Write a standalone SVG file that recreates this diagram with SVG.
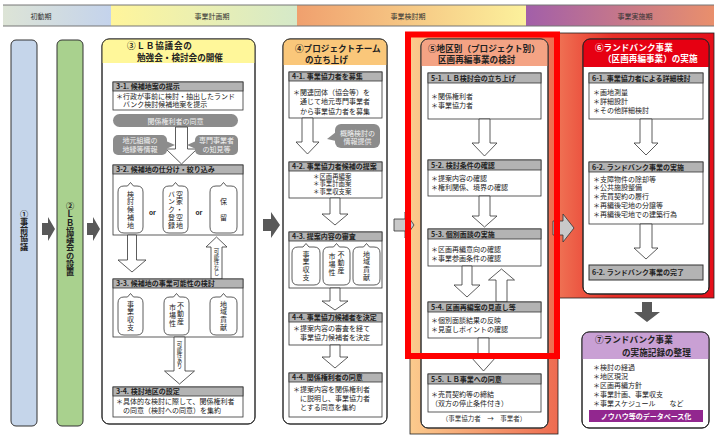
<svg xmlns="http://www.w3.org/2000/svg" width="717" height="436" viewBox="0 0 717 436" font-family="'Noto Sans CJK JP','Noto Sans',sans-serif">
<defs>
<linearGradient id="g1" x1="0" x2="1"><stop offset="0" stop-color="#dde4d6"/><stop offset="1" stop-color="#c4d3ec"/></linearGradient>
<linearGradient id="g2" x1="0" x2="1"><stop offset="0" stop-color="#fff59b"/><stop offset="1" stop-color="#d5e9c9"/></linearGradient>
<linearGradient id="g3" x1="0" x2="1"><stop offset="0" stop-color="#f0a06e"/><stop offset="1" stop-color="#fcf19c"/></linearGradient>
<linearGradient id="g4" x1="0" x2="1"><stop offset="0" stop-color="#a25fa9"/><stop offset="1" stop-color="#e98f6c"/></linearGradient>
<linearGradient id="gp5" x1="0" x2="1"><stop offset="0" stop-color="#fbcb8d"/><stop offset="1" stop-color="#ee6b50"/></linearGradient>
<linearGradient id="gp6" x1="0" x2="1"><stop offset="0" stop-color="#ef7254"/><stop offset="0.35" stop-color="#e83028"/><stop offset="1" stop-color="#e50f1a"/></linearGradient>
<style>
.box{fill:#fff;stroke:#333;stroke-width:1}
.sh{fill:#b3b3b3;stroke:#333;stroke-width:0.8}
.sb{fill:#fff;stroke:#333;stroke-width:0.8}
.ha{fill:#fff;stroke:#333;stroke-width:0.8}
.bub{fill:#fff;stroke:#333;stroke-width:0.8}
.gb{fill:#8c8c8c}
.da{fill:#595959}
.la{fill:#c9c9c9;stroke:#333;stroke-width:0.8}
.ph{font-size:7px;fill:#333;text-anchor:middle}
.ti{font-size:8.6px;font-weight:bold;fill:#222}
.tw{font-size:8.6px;font-weight:bold;fill:#fff}
.hd{font-size:7px;font-weight:bold;fill:#222}
.bt{font-size:7px;fill:#222}
.bs{font-size:6.4px;fill:#222}
.gt{font-size:7px;fill:#f2f2f2;text-anchor:middle}
.v{writing-mode:vertical-rl;text-anchor:middle}
.vb{font-size:7px;fill:#222;letter-spacing:0.8px}
.al{font-size:5.5px;fill:#222}
.or{font-size:6.5px;font-weight:bold;fill:#222;text-anchor:middle}
</style>
</defs>

<g id="phase-header">
<rect x="3" y="5" width="108" height="21" fill="url(#g1)"/>
<rect x="111" y="5" width="186" height="21" fill="url(#g2)"/>
<rect x="297" y="5" width="229" height="21" fill="url(#g3)"/>
<rect x="526" y="5" width="188" height="21" fill="url(#g4)"/>
<line x1="3" y1="5" x2="714" y2="5" stroke="#777" stroke-width="1"/>
<line x1="3" y1="26" x2="714" y2="26" stroke="#777" stroke-width="1"/>
<text class="ph" x="41" y="18.5">初動期</text>
<text class="ph" x="212" y="18.5">事業計画期</text>
<text class="ph" x="408" y="18.5">事業検討期</text>
<text class="ph" x="635" y="18.5">事業実施期</text>
</g>

<g id="panel5">
<rect x="410" y="33" width="148" height="401" fill="url(#gp5)" stroke="#222" stroke-width="0.8"/>
</g>
<g id="panel6">
<rect x="558" y="33" width="156" height="265" fill="url(#gp6)" stroke="#222" stroke-width="0.8"/>
</g>

<g id="connectors">
<path class="da" d="M42,223 H48 V217 L55,229 L48,241 V235 H42 Z"/>
<path class="da" d="M87,223 H93 V217 L100,229 L93,241 V235 H87 Z"/>
<path class="da" d="M263,219 H271 V212 L280,225 L271,238 V231 H263 Z"/>
<path class="la" d="M394,219 H405 V212 L414,225 L405,238 V231 H394 Z"/>
<path class="la" d="M553,221 H563 V214 L574,228 L563,242 V235 H553 Z"/>
<path class="da" d="M642,302 H652 V312 H660 L647,322 L634,312 H642 Z"/>
</g>

<g id="n1">
<rect x="11" y="40" width="26" height="386" rx="5" fill="#c5d5ea" stroke="#333" stroke-width="1"/>
<text class="v" x="24" y="230" font-size="8.2" font-weight="bold" fill="#222">①事前協議</text>
</g>
<g id="n2">
<rect x="57" y="40" width="26" height="386" rx="5" fill="#a9d18e" stroke="#333" stroke-width="1"/>
<text class="v" x="70" y="239" font-size="8.2" font-weight="bold" fill="#222">②ＬＢ協議会の設置</text>
</g>

<g id="n3">
<rect class="box" x="102" y="39" width="153" height="385" rx="7"/>
<path d="M102,63 V46 Q102,39 109,39 H248 Q255,39 255,46 V63 Z" fill="#fff79a"/>
<rect x="102" y="39" width="153" height="385" rx="7" fill="none" stroke="#333" stroke-width="1"/>
<text class="ti" x="127" y="49" letter-spacing="0.8">③ＬＢ協議会の</text>
<text class="ti" x="137" y="60.5">勉強会・検討会の開催</text>
<g id="s3-1">
<rect class="sb" x="113" y="82" width="130" height="28"/>
<rect class="sh" x="113" y="82" width="130" height="9"/>
<text class="hd" x="116" y="89">3-1. 候補地案の提示</text>
<text class="bt" x="116" y="98.5">＊行政が事前に検討・抽出したランド</text>
<text class="bt" x="123" y="107.3">バンク検討候補地案を提示</text>
</g>
<rect class="gb" x="113" y="114" width="125" height="13" rx="6.5"/>
<text class="gt" x="175.5" y="123.5">関係権利者の同意</text>
<path class="ha" d="M175.5,127 H187.5 V149 H197 L181.5,164 L166,149 H175.5 Z"/>
<rect class="gb" x="113" y="135" width="54" height="20" rx="5"/>
<polygon class="gb" points="166,141 175,145 166,149"/>
<text class="gt" x="140" y="143.2">地元組織の</text>
<text class="gt" x="140" y="152">地縁等情報</text>
<rect class="gb" x="195" y="135" width="43" height="20" rx="5"/>
<polygon class="gb" points="196,141 187,145 196,149"/>
<text class="gt" x="216.5" y="143.2">専門事業者</text>
<text class="gt" x="216.5" y="152">の知見等</text>
<g id="s3-2">
<rect class="sb" x="113" y="165" width="130" height="70"/>
<rect class="sh" x="113" y="165" width="130" height="9"/>
<text class="hd" x="116" y="172">3-2. 候補地の仕分け・絞り込み</text>
<path class="bub" d="M124,186 H127.5 L130.5,182.5 L133.5,186 H137 Q143,186 143,192 V227 Q143,233 137,233 H124 Q118,233 118,227 V192 Q118,186 124,186 Z"/>
<path class="bub" d="M169,186 H172.5 L175.5,182.5 L178.5,186 H182 Q188,186 188,192 V227 Q188,233 182,233 H169 Q163,233 163,227 V192 Q163,186 169,186 Z"/>
<path class="bub" d="M216,186 H220.5 L223.5,182.5 L226.5,186 H231 Q237,186 237,192 V227 Q237,233 231,233 H216 Q210,233 210,227 V192 Q210,186 216,186 Z"/>
<text class="v vb" x="130.5" y="210" letter-spacing="1.5">検討候補地</text>
<text class="v vb" x="179.5" y="210" letter-spacing="1.5">空家・空地</text>
<text class="v vb" x="171.5" y="210" letter-spacing="1.5">バンク登録</text>
<text class="v vb" x="223.5" y="210" letter-spacing="1.5">保　留</text>
<text class="or" x="152.5" y="215">or</text>
<text class="or" x="199" y="215">or</text>
</g>
<path class="ha" d="M127.5,235 H136.5 V260 H146 L132,272 L118,260 H127.5 Z"/>
<path class="ha" d="M216.5,237 L227,247 H222 V279 H211 V247 H206 Z"/>
<text class="v al" x="216.5" y="262">可能性なし</text>
<g id="s3-3">
<rect class="sb" x="113" y="279" width="130" height="58"/>
<rect class="sh" x="113" y="279" width="130" height="9"/>
<text class="hd" x="116" y="286">3-3. 候補地の事業可能性の検討</text>
<path class="bub" d="M124,297 H127.5 L130.5,293.5 L133.5,297 H137 Q143,297 143,303 V329 Q143,335 137,335 H124 Q118,335 118,329 V303 Q118,297 124,297 Z"/>
<path class="bub" d="M170,297 H173.5 L176.5,293.5 L179.5,297 H183 Q189,297 189,303 V329 Q189,335 183,335 H170 Q164,335 164,329 V303 Q164,297 170,297 Z"/>
<path class="bub" d="M216,297 H220.5 L223.5,293.5 L226.5,297 H231 Q237,297 237,303 V329 Q237,335 231,335 H216 Q210,335 210,329 V303 Q210,297 216,297 Z"/>
<text class="v vb" x="130.5" y="316">事業収支</text>
<text class="v vb" x="180.5" y="314">不動産</text>
<text class="v vb" x="172.5" y="316">市場性</text>
<text class="v vb" x="223.5" y="316">地域貢献</text>
</g>
<path class="ha" d="M174,337 H185 V371 H194.5 L179.5,384 L164.5,371 H174 Z"/>
<text class="v al" x="179.5" y="355">可能性あり</text>
<g id="s3-4">
<rect class="sb" x="113" y="387" width="130" height="30"/>
<rect class="sh" x="113" y="387" width="130" height="9"/>
<text class="hd" x="116" y="394">3-4. 検討地区の設定</text>
<text class="bt" x="116" y="404.3">＊具体的な検討に際して、関係権利者</text>
<text class="bt" x="123" y="413.2">の同意（検討への同意）を集約</text>
</g>
</g>

<g id="n4">
<rect class="box" x="283" y="39" width="104" height="385" rx="7"/>
<path d="M283,65 V46 Q283,39 290,39 H380 Q387,39 387,46 V65 Z" fill="#fac77a"/>
<rect x="283" y="39" width="104" height="385" rx="7" fill="none" stroke="#333" stroke-width="1"/>
<text class="ti" x="295" y="51.5">④プロジェクトチーム</text>
<text class="ti" x="305" y="62.5">の立ち上げ</text>
<g id="s4-1">
<rect class="sb" x="289" y="72" width="93" height="46"/>
<rect class="sh" x="289" y="72" width="93" height="9"/>
<text class="hd" x="292" y="79">4-1. 事業協力者を募集</text>
<text class="bt" x="293" y="94.5">＊関連団体（協会等）を</text>
<text class="bt" x="300" y="104">通じて地元専門事業者</text>
<text class="bt" x="300" y="113.5">から事業協力者を募集</text>
</g>
<path class="ha" d="M302,118 H313 V142 H319 L307.5,154 L296,142 H302 Z"/>
<rect class="gb" x="335" y="124" width="45" height="24" rx="6"/>
<polygon class="gb" points="336,132 327,139 336,141"/>
<text class="gt" x="357.5" y="135.5">概略検討の</text>
<text class="gt" x="357.5" y="144.2">情報提供</text>
<g id="s4-2">
<rect class="sb" x="289" y="162" width="93" height="36"/>
<rect class="sh" x="289" y="162" width="93" height="9"/>
<text class="hd" x="292" y="169">4-2. 事業協力者候補の提案</text>
<text class="bs" x="313" y="178.6">＊区画再編案</text>
<text class="bs" x="313" y="186.2">＊事業計画案</text>
<text class="bs" x="313" y="193.8">＊事業収支案</text>
</g>
<path class="ha" d="M330,198 H340 V214 H348 L335,225 L322,214 H330 Z"/>
<g id="s4-3">
<rect class="sb" x="289" y="232" width="93" height="56"/>
<rect class="sh" x="289" y="232" width="93" height="9"/>
<text class="hd" x="292" y="239">4-3. 提案内容の審査</text>
<path class="bub" d="M298,247 H303 L306,243.5 L309,247 H314 Q320,247 320,253 V279 Q320,285 314,285 H298 Q292,285 292,279 V253 Q292,247 298,247 Z"/>
<path class="bub" d="M329,247 H333.5 L336.5,243.5 L339.5,247 H344 Q350,247 350,253 V279 Q350,285 344,285 H329 Q323,285 323,279 V253 Q323,247 329,247 Z"/>
<path class="bub" d="M359,247 H363.5 L366.5,243.5 L369.5,247 H374 Q380,247 380,253 V279 Q380,285 374,285 H359 Q353,285 353,279 V253 Q353,247 359,247 Z"/>
<text class="v vb" x="306" y="266" letter-spacing="1.2">事業収支</text>
<text class="v vb" x="341" y="263" letter-spacing="1.2">不動産</text>
<text class="v vb" x="332" y="265" letter-spacing="1.2">市場性</text>
<text class="v vb" x="366.5" y="266" letter-spacing="1.2">地域貢献</text>
</g>
<path class="ha" d="M330,288 H340 V301 H348 L335,310 L322,301 H330 Z"/>
<g id="s4-4">
<rect class="sb" x="289" y="313" width="93" height="32"/>
<rect class="sh" x="289" y="313" width="93" height="9"/>
<text class="hd" x="292" y="320">4-4. 事業協力候補者を決定</text>
<text class="bt" x="293" y="330.5">＊提案内容の審査を経て</text>
<text class="bt" x="300" y="339.5">事業協力候補者を決定</text>
</g>
<path class="ha" d="M330,345 H340 V357 H348 L335,368 L322,357 H330 Z"/>
<g id="s4-4b">
<rect class="sb" x="289" y="373" width="93" height="44"/>
<rect class="sh" x="289" y="373" width="93" height="9"/>
<text class="hd" x="292" y="380">4-4. 関係権利者の同意</text>
<text class="bt" x="293" y="392">＊提案内容を関係権利者</text>
<text class="bt" x="300" y="401">に説明し、事業協力者</text>
<text class="bt" x="300" y="410">とする同意を集約</text>
</g>
</g>

<g id="n5">
<rect class="box" x="421" y="39" width="127" height="389" rx="7"/>
<path d="M421,66 V46 Q421,39 428,39 H541 Q548,39 548,46 V66 Z" fill="#f4a384"/>
<rect x="421" y="39" width="127" height="389" rx="7" fill="none" stroke="#333" stroke-width="1"/>
<text class="ti" x="428" y="51.5">⑤地区別（プロジェクト別）</text>
<text class="ti" x="438" y="62.5">区画再編事業の検討</text>
<g id="s5-1">
<rect class="sb" x="428" y="73" width="113" height="46"/>
<rect class="sh" x="428" y="73" width="113" height="10"/>
<text class="hd" x="431" y="80.5">5-1. ＬＢ検討会の立ち上げ</text>
<text class="bt" x="431" y="99">＊関係権利者</text>
<text class="bt" x="431" y="107.8">＊事業協力者</text>
</g>
<path class="ha" d="M479,119 H490 V143 H497 L484.5,156 L472,143 H479 Z"/>
<g id="s5-2">
<rect class="sb" x="428" y="160" width="113" height="36"/>
<rect class="sh" x="428" y="160" width="113" height="10"/>
<text class="hd" x="431" y="167.5">5-2. 検討条件の確認</text>
<text class="bt" x="431" y="180.5">＊提案内容の確認</text>
<text class="bt" x="431" y="189.5">＊権利関係、境界の確認</text>
</g>
<path class="ha" d="M479,196 H490 V216 H497 L484.5,227 L472,216 H479 Z"/>
<g id="s5-3">
<rect class="sb" x="428" y="229" width="113" height="37"/>
<rect class="sh" x="428" y="229" width="113" height="10"/>
<text class="hd" x="431" y="236.5">5-3. 個別面談の実施</text>
<text class="bt" x="431" y="252">＊区画再編意向の確認</text>
<text class="bt" x="431" y="260.8">＊事業参画条件の確認</text>
</g>
<path class="ha" d="M462,266 H472 V285 H480 L467,297 L454,285 H462 Z"/>
<path class="ha" d="M501.5,269 L514.5,280 H507 V302 H496 V280 H488.5 Z"/>
<g id="s5-4">
<rect class="sb" x="428" y="302" width="113" height="36"/>
<rect class="sh" x="428" y="302" width="113" height="10"/>
<text class="hd" x="431" y="309.5">5-4. 区画再編案の見直し等</text>
<text class="bt" x="431" y="322.5">＊個別面談結果の反映</text>
<text class="bt" x="431" y="331.5">＊見直しポイントの確認</text>
</g>
<path class="ha" d="M478,338 H489 V357 H496 L483.5,371 L471,357 H478 Z"/>
<g id="s5-5">
<rect class="sb" x="428" y="374" width="113" height="38"/>
<rect class="sh" x="428" y="374" width="113" height="10"/>
<text class="hd" x="431" y="381.5">5-5. ＬＢ事業への同意</text>
<text class="bt" x="431" y="396.5">＊売買契約等の締結</text>
<text class="bt" x="431" y="405.5">（双方の停止条件付き）</text>
</g>
<text x="484" y="421" font-size="6.5" fill="#333" text-anchor="middle">（事業協力者　→　事業者）</text>
</g>

<g id="n6">
<rect class="box" x="583" y="39" width="126" height="255" rx="7"/>
<path d="M583,67 V46 Q583,39 590,39 H702 Q709,39 709,46 V67 Z" fill="#e60012"/>
<rect x="583" y="39" width="126" height="255" rx="7" fill="none" stroke="#222" stroke-width="1"/>
<text class="tw" x="595" y="50.5">⑥ランドバンク事業</text>
<text class="tw" x="603" y="61.5">（区画再編事業）の実施</text>
<g id="s6-1">
<rect class="sb" x="589" y="73" width="114" height="46"/>
<rect class="sh" x="589" y="73" width="114" height="10"/>
<text class="hd" x="592" y="80.5">6-1. 事業協力者による詳細検討</text>
<text class="bt" x="593" y="94.5">＊画地測量</text>
<text class="bt" x="593" y="103.5">＊詳細設計</text>
<text class="bt" x="593" y="112.5">＊その他詳細検討</text>
</g>
<path class="ha" d="M640,119 H652 V143 H658 L646,155 L634,143 H640 Z"/>
<g id="s6-2">
<rect class="sb" x="589" y="162" width="114" height="62"/>
<rect class="sh" x="589" y="162" width="114" height="10"/>
<text class="hd" x="592" y="169.5">6-2. ランドバンク事業の実施</text>
<text class="bt" x="593" y="181.5">＊支障物件の除却等</text>
<text class="bt" x="593" y="190.3">＊公共施設整備</text>
<text class="bt" x="593" y="199.1">＊売買契約の履行</text>
<text class="bt" x="593" y="207.9">＊再編後宅地の分譲等</text>
<text class="bt" x="593" y="216.7">＊再編後宅地での建築行為</text>
</g>
<path class="ha" d="M640,224 H652 V248 H658 L646,259 L634,248 H640 Z"/>
<g id="s6-3">
<rect x="589" y="265" width="114" height="15" fill="#b3b3b3" stroke="#333" stroke-width="1"/>
<text class="hd" x="592" y="275">6-2. ランドバンク事業の完了</text>
</g>
</g>

<g id="n7">
<rect class="box" x="582" y="332" width="127" height="96" rx="7"/>
<path d="M582,359 V339 Q582,332 589,332 H702 Q709,332 709,339 V359 Z" fill="#c9a0d4"/>
<rect x="582" y="332" width="127" height="96" rx="7" fill="none" stroke="#222" stroke-width="1"/>
<text class="ti" x="595" y="342.5">⑦ランドバンク事業</text>
<text class="ti" x="622" y="356">の実施記録の整理</text>
<text class="bt" x="593" y="370">＊検討の経過</text>
<text class="bt" x="593" y="379">＊地区現況</text>
<text class="bt" x="593" y="388">＊区画再編方針</text>
<text class="bt" x="593" y="397">＊事業計画、事業収支</text>
<text class="bt" x="593" y="406">＊事業スケジュール　　など</text>
<rect x="589" y="410" width="114" height="12" fill="#92278f"/>
<text x="646" y="419" font-size="7" font-weight="bold" fill="#fff" text-anchor="middle">ノウハウ等のデータベース化</text>
</g>

<g id="highlight">
<rect x="408" y="34.5" width="149" height="321.5" fill="none" stroke="#ff0000" stroke-width="6"/>
</g>
</svg>
